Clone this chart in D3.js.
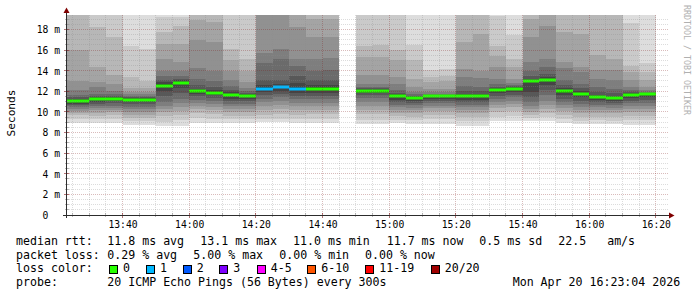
<!DOCTYPE html>
<html>
<head>
<meta charset="utf-8">
<script src="https://cdn.jsdelivr.net/npm/d3@7"></script>
<style>
  body { margin: 0; background: #fff; }
  svg { display: block; }
  text { font-family: "DejaVu Sans Mono", monospace; white-space: pre; }
</style>
</head>
<body>
<div id="chart"></div>
<script>
// 5 minute slots, labelled by their end time
const slots = ["13:25","13:30","13:35","13:40","13:45","13:50","13:55","14:00","14:05","14:10","14:15","14:20",
  "14:25","14:30","14:35","14:40","14:45","14:50","14:55","15:00","15:05","15:10","15:15","15:20",
  "15:25","15:30","15:35","15:40","15:45","15:50","15:55","16:00","16:05","16:10","16:15","16:20"];

// median rtt in ms (null = no data)
const median = [11.04,11.04,11.23,11.3,11.2,11.2,12.56,12.82,12.04,11.88,11.62,11.58,
  12.27,12.4,12.23,12.23,12.23,null,12.04,12.04,11.5,11.36,11.5,11.5,
  11.5,11.5,12.1,12.23,12.98,13.08,11.98,11.75,11.43,11.36,11.65,11.69];

// lost pings out of 20
const loss = [0,0,0,0,0,0,0,0,0,0,0,0, 1,1,1,0,0,null,0,0,0,0,0,0, 0,0,0,0,0,0,0,0,0,0,0,0];

// the 20 sorted ping times of every slot, ms
const pings = [
  [8.93,9.35,9.7,9.85,10.05,10.25,10.45,10.65,10.8,10.95, 11.13,11.25,11.4,11.6,12.09,13.0,15.97,21.0,22.4,24.1],
  [8.93,9.35,9.7,9.85,10.05,10.25,10.45,10.65,10.8,10.95, 11.13,11.25,11.4,11.6,12.09,13.0,15.97,21.0,22.4,24.1],
  [8.93,9.3,9.65,9.9,10.15,10.35,10.55,10.75,10.95,11.14, 11.32,11.42,11.55,11.76,12.41,12.89,14.35,18.23,21.0,23.5],
  [8.97,9.35,9.7,9.95,10.2,10.4,10.6,10.85,11.05,11.22, 11.38,11.45,11.55,11.7,11.98,12.73,13.54,17.26,21.2,23.0],
  [8.74,9.1,9.4,9.7,10.0,10.25,10.5,10.75,10.95,11.12, 11.28,11.37,11.45,11.55,11.7,11.9,12.28,13.41,16.41,21.5],
  [8.74,9.1,9.4,9.7,10.0,10.25,10.5,10.75,10.95,11.12, 11.28,11.37,11.45,11.55,11.7,11.9,12.28,13.0,16.1,21.8],
  [8.64,9.0,9.6,9.97,10.3,10.62,11.0,11.5,12.0,12.42, 12.7,12.89,13.1,13.5,14.01,15.15,16.6,17.74,19.19,21.3],
  [8.64,9.2,9.7,10.1,10.5,10.9,11.3,11.8,12.3,12.72, 12.92,13.05,13.2,13.5,14.0,14.83,16.6,18.38,19.19,21.6],
  [8.93,9.4,9.9,10.3,10.6,10.9,11.2,11.5,11.75,11.96, 12.12,12.27,12.6,13.24,14.22,17.0,18.9,21.0,22.5,24.0],
  [8.93,9.35,9.8,10.2,10.5,10.8,11.1,11.35,11.6,11.8, 11.96,12.1,12.4,13.0,14.0,16.8,18.7,20.8,22.2,23.9],
  [8.97,9.3,9.65,10.0,10.3,10.55,10.8,11.05,11.3,11.5, 11.75,11.92,12.1,12.5,13.05,14.01,14.99,16.12,21.0,23.0],
  [8.97,9.3,9.65,10.0,10.3,10.55,10.8,11.05,11.3,11.5, 11.67,11.75,11.85,12.0,12.3,12.89,14.01,15.15,20.9,22.7],
  [9.0,9.3,9.7,10.2,10.6,10.95,11.3,11.6,11.9,12.15, 12.4,12.6,13.08,14.7,15.67,20.5,21.5,22.6,24.0,26.0],
  [9.0,9.35,9.8,10.3,10.7,11.05,11.4,11.7,12.0,12.3, 12.5,12.7,13.08,15.18,16.06,20.6,21.7,23.0,24.4,26.5],
  [8.97,9.3,9.7,10.15,10.55,10.9,11.25,11.55,11.85,12.1, 12.4,12.8,13.5,14.5,15.18,18.25,20.8,22.0,23.5,25.5],
  [8.97,9.3,9.75,10.15,10.55,10.9,11.25,11.55,11.85,12.08, 12.38,12.6,13.05,14.0,15.15,17.26,19.03,21.0,22.5,24.3],
  [8.97,9.3,9.75,10.15,10.55,10.9,11.25,11.55,11.85,12.08, 12.38,12.6,13.1,14.1,15.2,17.3,19.05,21.1,22.6,24.5],
  null,
  [8.8,9.25,9.75,10.2,10.6,11.0,11.35,11.6,11.8,11.96, 12.12,12.22,12.3,12.45,12.73,13.54,15.31,16.44,20.8,22.9],
  [8.8,9.25,9.75,10.2,10.6,11.0,11.35,11.6,11.8,11.96, 12.12,12.22,12.3,12.45,12.73,13.54,15.31,16.5,20.9,23.1],
  [8.9,9.25,9.6,9.9,10.2,10.45,10.7,10.95,11.2,11.4, 11.6,11.7,11.85,12.08,12.73,13.38,14.99,15.96,21.0,22.8],
  [8.85,9.2,9.55,9.85,10.15,10.4,10.65,10.9,11.1,11.28, 11.43,11.5,11.58,11.7,11.92,12.41,13.21,15.0,16.5,21.2],
  [8.85,9.3,9.7,10.05,10.35,10.6,10.85,11.1,11.3,11.44, 11.55,11.6,11.66,11.75,11.9,12.2,12.9,13.4,14.05,20.9],
  [8.85,9.3,9.7,10.05,10.35,10.6,10.85,11.1,11.3,11.44, 11.55,11.6,11.66,11.75,11.9,12.25,12.95,13.5,14.2,21.3],
  [8.6,9.1,9.5,9.9,10.2,10.45,10.7,10.95,11.2,11.4, 11.6,11.75,12.0,12.5,13.4,14.2,16.8,20.7,22.2,24.0],
  [8.6,9.1,9.5,9.9,10.2,10.45,10.7,10.95,11.2,11.4, 11.6,11.75,12.0,12.4,13.3,14.0,17.6,20.9,22.5,24.4],
  [9.1,9.5,9.95,10.35,10.7,11.0,11.3,11.55,11.8,12.0, 12.2,12.3,12.45,12.73,13.21,14.34,15.47,16.44,19.35,21.4],
  [9.15,9.6,10.05,10.45,10.8,11.1,11.4,11.65,11.9,12.12, 12.32,12.4,12.48,12.6,12.8,13.21,14.34,15.15,17.46,21.0],
  [9.1,9.4,9.7,10.0,10.3,10.6,10.94,11.4,11.9,12.88, 13.08,13.2,13.5,14.01,14.83,17.26,19.03,21.0,22.6,24.8],
  [9.1,9.5,9.9,10.3,10.7,11.1,11.6,12.1,12.6,12.96, 13.2,13.35,13.7,14.34,15.15,18.3,20.6,22.0,23.5,25.6],
  [8.9,9.3,9.7,10.05,10.4,10.7,11.0,11.3,11.6,11.86, 12.1,12.3,12.6,13.08,14.22,14.86,17.77,20.9,22.4,24.2],
  [8.85,9.15,9.5,9.85,10.2,10.5,10.8,11.1,11.4,11.62, 11.88,12.05,12.3,12.75,13.89,14.37,17.6,20.8,22.3,24.0],
  [8.85,9.2,9.55,9.9,10.2,10.45,10.7,10.95,11.15,11.34, 11.52,11.62,11.9,12.43,13.24,14.05,15.5,20.6,22.0,23.7],
  [8.8,9.15,9.5,9.85,10.15,10.4,10.65,10.9,11.1,11.27, 11.45,11.55,11.8,12.27,13.08,14.05,15.18,20.5,21.9,23.5],
  [8.7,9.2,9.6,10.0,10.3,10.6,10.85,11.1,11.35,11.55, 11.72,11.8,11.9,12.1,12.4,13.08,13.9,14.5,18.6,21.0],
  [8.7,9.2,9.6,10.0,10.3,10.6,10.9,11.15,11.4,11.6, 11.75,11.8,11.85,11.95,12.1,12.43,13.08,13.89,14.7,21.1]
];

// axis ticks
const xTicks = ["13:40","14:00","14:20","14:40","15:00","15:20","15:40","16:00","16:20"];
const yTicks = [0,2,4,6,8,10,12,14,16,18];

// loss legend
const lossLabels = ["0","1","2","3","4-5","6-10","11-19","20/20"];
const lossColors = ["#26ff00","#00b8ff","#0059ff","#7e00ff","#ff00ff","#ff5500","#ff0000","#a00000"];

// legend text
const rttLegend = ["median rtt:","11.8 ms avg","13.1 ms max","11.0 ms min","11.7 ms now","0.5 ms sd","22.5   am/s"];
const lossLegend = ["packet loss:","0.29 % avg","5.00 % max","0.00 % min","0.00 % now"];
const probeLegend = ["probe:","20 ICMP Echo Pings (56 Bytes) every 300s","Mon Apr 20 16:23:04 2026"];

// ---------- layout ----------
const W = 697, H = 297;
const pLeft = 67, pRight = 667, pTop = 15, pBottom = 215;
const at = (h, m, s) => new Date(2026, 3, 20, h, m, s || 0);
const parse = s => { const p = s.split(":").map(Number); return at(p[0], p[1]); };

const x = d3.scaleTime()
  .domain([at(13, 23, 15), at(16, 23, 15)])
  .range([66.7, 666.7]);
const y = d3.scaleLinear().domain([0, 19.4]).range([pBottom, pTop]);

const svg = d3.select("#chart").append("svg")
  .attr("width", W).attr("height", H);

svg.append("rect").attr("width", W).attr("height", H).attr("fill", "#fff");

svg.append("clipPath").attr("id", "clip")
  .append("rect").attr("x", pLeft).attr("y", pTop)
  .attr("width", pRight - pLeft).attr("height", pBottom - pTop);

// smokeping grey for pair k (0 = outermost)
const grey = k => { const c = Math.floor(190 / 10 * (9 - k)) + 50; return d3.rgb(c, c, c).formatHex(); };
const bucket = n => n <= 3 ? n : n <= 5 ? 4 : n <= 10 ? 5 : n < 20 ? 6 : 7;

const cols = slots.map((s, i) => ({
  x0: Math.round(x(d3.timeMinute.offset(parse(s), -5))),
  x1: Math.round(x(parse(s))),
  p: pings[i], med: median[i], loss: loss[i]
})).filter(d => d.p);

const plot = svg.append("g").attr("clip-path", "url(#clip)");

// smoke: pair k spans ping k .. ping 19-k, inner pairs drawn last
d3.range(10).forEach(k => {
  plot.selectAll(null)
    .data(cols)
    .join("rect")
      .attr("x", d => d.x0)
      .attr("width", d => d.x1 - d.x0)
      .attr("y", d => Math.round(y(d.p[19 - k])))
      .attr("height", d => Math.round(y(d.p[k])) - Math.round(y(d.p[19 - k])))
      .attr("fill", grey(k));
});

// median, coloured by loss
plot.selectAll(null)
  .data(cols)
  .join("rect")
    .attr("x", d => d.x0)
    .attr("width", d => d.x1 - d.x0)
    .attr("y", d => Math.round(y(d.med)) - 1.5)
    .attr("height", 3)
    .attr("fill", d => lossColors[bucket(d.loss)]);

// grid on top, dashed like rrdtool
const minorC = "rgba(140,140,140,0.30)", majorC = "rgba(130,30,30,0.30)";
const grid = svg.append("g").attr("stroke-dasharray", "1,1").attr("stroke-width", 1);

const yMinor = d3.range(0.5, 19.4, 0.5).filter(v => v % 2 !== 0);
grid.selectAll(null).data(yMinor).join("line")
  .attr("x1", pLeft).attr("x2", pRight + 1)
  .attr("y1", d => Math.floor(y(d)) + 0.5).attr("y2", d => Math.floor(y(d)) + 0.5)
  .attr("stroke", minorC);
grid.selectAll(null).data(yTicks.filter(v => v > 0)).join("line")
  .attr("x1", pLeft).attr("x2", pRight + 1)
  .attr("y1", d => Math.floor(y(d)) + 0.5).attr("y2", d => Math.floor(y(d)) + 0.5)
  .attr("stroke", majorC);

const xMajor = xTicks.map(parse);
const xMinor = d3.timeMinute.every(5).range(at(13, 24), at(16, 24))
  .filter(d => d.getMinutes() % 20 !== 0);
grid.selectAll(null).data(xMinor).join("line")
  .attr("x1", d => Math.floor(x(d)) + 0.5).attr("x2", d => Math.floor(x(d)) + 0.5)
  .attr("y1", pTop).attr("y2", pBottom)
  .attr("stroke", minorC);
grid.selectAll(null).data(xMajor).join("line")
  .attr("x1", d => Math.floor(x(d)) + 0.5).attr("x2", d => Math.floor(x(d)) + 0.5)
  .attr("y1", pTop).attr("y2", pBottom)
  .attr("stroke", majorC);

// tick marks
const ticks = svg.append("g").attr("stroke-width", 1);
ticks.selectAll(null).data(xMinor).join("line")
  .attr("x1", d => Math.floor(x(d)) + 0.5).attr("x2", d => Math.floor(x(d)) + 0.5)
  .attr("y1", pBottom - 2).attr("y2", pBottom + 2).attr("stroke", "rgba(140,140,140,0.6)");
ticks.selectAll(null).data(xMajor).join("line")
  .attr("x1", d => Math.floor(x(d)) + 0.5).attr("x2", d => Math.floor(x(d)) + 0.5)
  .attr("y1", pBottom - 2).attr("y2", pBottom + 3).attr("stroke", "rgba(130,30,30,0.6)");
ticks.selectAll(null).data(yMinor).join("line")
  .attr("x1", pLeft - 2).attr("x2", pLeft + 2)
  .attr("y1", d => Math.floor(y(d)) + 0.5).attr("y2", d => Math.floor(y(d)) + 0.5)
  .attr("stroke", "rgba(140,140,140,0.6)");
ticks.selectAll(null).data(yTicks).join("line")
  .attr("x1", pLeft - 3).attr("x2", pLeft + 2)
  .attr("y1", d => Math.floor(y(d)) + 0.5).attr("y2", d => Math.floor(y(d)) + 0.5)
  .attr("stroke", "rgba(130,30,30,0.6)");

// axes lines and arrows
const axisC = "#2c2c2c", arrowC = "#7f0000";
svg.append("line").attr("x1", 63).attr("x2", 670).attr("y1", pBottom + 0.5).attr("y2", pBottom + 0.5)
  .attr("stroke", axisC);
svg.append("line").attr("x1", pLeft - 0.5).attr("x2", pLeft - 0.5).attr("y1", pBottom + 3).attr("y2", 10)
  .attr("stroke", axisC);
svg.append("path").attr("d", "M669,212.5L674.5,215.5L669,218.5Z").attr("fill", arrowC);
svg.append("path").attr("d", "M63.5,13L66.5,7.5L69.5,13Z").attr("fill", arrowC);

// axis labels through d3 axes
const fmt = d3.timeFormat("%H:%M");
svg.append("g")
  .attr("transform", `translate(0,${pBottom})`)
  .call(d3.axisBottom(x).tickValues(xMajor).tickFormat(fmt).tickSize(0).tickPadding(0))
  .call(g => g.select(".domain").remove())
  .call(g => g.selectAll("text")
    .attr("y", 13).attr("dy", null)
    .attr("font-family", "DejaVu Sans Mono").attr("font-size", "9.7px").attr("fill", "#000"));

svg.append("g")
  .attr("transform", `translate(60,0)`)
  .call(d3.axisLeft(y).tickValues(yTicks).tickFormat(d => d === 0 ? "0  " : d + " m").tickSize(0).tickPadding(0))
  .call(g => g.select(".domain").remove())
  .call(g => g.selectAll("text")
    .attr("dy", "0.35em")
    .attr("font-family", "DejaVu Sans Mono").attr("font-size", "9.7px").attr("fill", "#000"));

svg.append("text")
  .attr("transform", "translate(14.5,113) rotate(-90)")
  .attr("text-anchor", "middle")
  .attr("font-size", "11.2px")
  .text("Seconds");

svg.append("text")
  .attr("transform", "translate(684,60) rotate(90)")
  .attr("text-anchor", "middle")
  .attr("font-size", "8.3px")
  .attr("fill", "#b0b0b0")
  .text("RRDTOOL / TOBI OETIKER");

// legend
const legendFont = "11.6px";
const rows = [245, 258.7, 272.4, 286];
const rttX = [16, 107.3, 200.3, 293, 386.7, 479.3, 558.3];
const lossX = [16, 107.3, 193.3, 279.3, 365];
const probeX = [16, 107.3, 512.7];
const swatchX = [109, 146, 182.7, 219.3, 256.7, 307.3, 365.3, 430.7];

const legend = svg.append("g").attr("font-size", legendFont).attr("fill", "#000");
legend.selectAll(null).data(rttLegend).join("text")
  .attr("x", (d, i) => rttX[i]).attr("y", rows[0]).text(d => d);
legend.selectAll(null).data(lossLegend).join("text")
  .attr("x", (d, i) => lossX[i]).attr("y", rows[1]).text(d => d);
legend.append("text").attr("x", 16).attr("y", rows[2]).text("loss color:");
legend.selectAll(null).data(lossLabels).join("rect")
  .attr("x", (d, i) => Math.round(swatchX[i]) + 0.5).attr("y", 265.5)
  .attr("width", 8).attr("height", 8)
  .attr("fill", (d, i) => lossColors[i]).attr("stroke", "#000");
legend.selectAll(null).data(lossLabels).join("text")
  .attr("x", (d, i) => swatchX[i] + 14).attr("y", rows[2]).text(d => d);
legend.selectAll(null).data(probeLegend).join("text")
  .attr("x", (d, i) => probeX[i]).attr("y", rows[3]).text(d => d);
</script>
</body>
</html>
